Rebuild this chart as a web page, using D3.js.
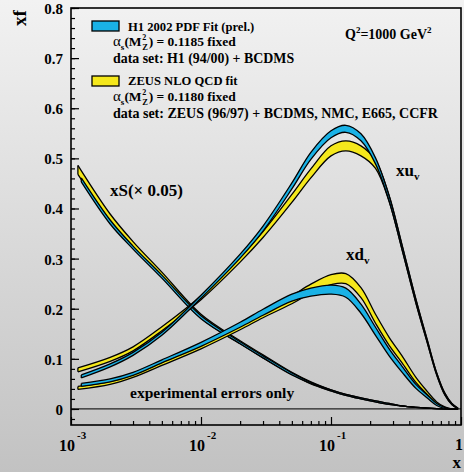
<!DOCTYPE html>
<html>
<head>
<meta charset="utf-8">
<script src="https://cdn.jsdelivr.net/npm/d3@7"></script>
<style>
  html, body { margin: 0; padding: 0; }
  body { width: 464px; height: 472px; overflow: hidden; }
  text { font-family: "Liberation Serif", "Times New Roman", serif; font-weight: bold; fill: #000; }
</style>
</head>
<body>
<script>
// x grids of the two fits (the fits start at slightly different low-x values)
const xH1   = [0.0012, 0.002, 0.003, 0.005, 0.01, 0.02, 0.03, 0.05, 0.07, 0.1, 0.13, 0.17, 0.22, 0.28, 0.35, 0.45, 0.55, 0.65, 0.75, 0.85, 0.95];
const xZEUS = [0.00113, 0.002, 0.003, 0.005, 0.01, 0.02, 0.03, 0.05, 0.07, 0.1, 0.13, 0.17, 0.22, 0.28, 0.35, 0.45, 0.55, 0.65, 0.75, 0.85, 0.95];

// x u_v
const xuvH1      = [0.065, 0.087, 0.110, 0.150, 0.224, 0.305, 0.360, 0.445, 0.505, 0.548, 0.559, 0.542, 0.495, 0.420, 0.325, 0.215, 0.135, 0.070, 0.030, 0.010, 0.001];
const xuvH1Err   = [0.003, 0.003, 0.003, 0.003, 0.003, 0.004, 0.005, 0.006, 0.007, 0.007, 0.007, 0.007, 0.006, 0.005, 0.004, 0.003, 0.002, 0.002, 0.001, 0.001, 0.0005];
const xuvZEUS    = [0.078, 0.099, 0.120, 0.160, 0.222, 0.298, 0.348, 0.420, 0.470, 0.515, 0.525, 0.515, 0.488, 0.420, 0.325, 0.215, 0.135, 0.070, 0.030, 0.010, 0.001];
const xuvZEUSErr = [0.004, 0.004, 0.004, 0.004, 0.004, 0.005, 0.006, 0.008, 0.009, 0.010, 0.010, 0.010, 0.008, 0.006, 0.005, 0.004, 0.003, 0.002, 0.002, 0.001, 0.0005];

// x d_v
const xdvH1      = [0.048, 0.057, 0.070, 0.095, 0.129, 0.168, 0.193, 0.222, 0.233, 0.238, 0.232, 0.200, 0.155, 0.113, 0.080, 0.045, 0.025, 0.009, 0.002, 0.000, 0.000];
const xdvH1Err   = [0.003, 0.003, 0.003, 0.003, 0.004, 0.005, 0.006, 0.007, 0.008, 0.009, 0.009, 0.009, 0.008, 0.007, 0.006, 0.004, 0.003, 0.002, 0.001, 0.000, 0.000];
const xdvZEUS    = [0.042, 0.052, 0.066, 0.090, 0.124, 0.163, 0.188, 0.218, 0.240, 0.258, 0.260, 0.232, 0.180, 0.135, 0.100, 0.058, 0.032, 0.012, 0.003, 0.000, 0.000];
const xdvZEUSErr = [0.003, 0.003, 0.003, 0.003, 0.004, 0.005, 0.006, 0.008, 0.009, 0.010, 0.010, 0.010, 0.009, 0.008, 0.007, 0.005, 0.003, 0.002, 0.001, 0.000, 0.000];

// x S, scaled by 0.05
const xSH1       = [0.457, 0.373, 0.322, 0.264, 0.183, 0.132, 0.104, 0.070, 0.052, 0.037, 0.028, 0.021, 0.015, 0.010, 0.006, 0.003, 0.0015, 0.0007, 0.0003, 0.0001, 0.000];
const xSH1Err    = [0.004, 0.004, 0.003, 0.003, 0.003, 0.002, 0.002, 0.002, 0.001, 0.001, 0.001, 0.001, 0.001, 0.001, 0.000, 0.000, 0.000, 0.000, 0.000, 0.000, 0.000];
const xSZEUS     = [0.477, 0.382, 0.328, 0.268, 0.185, 0.133, 0.105, 0.071, 0.052, 0.037, 0.028, 0.021, 0.015, 0.010, 0.006, 0.003, 0.0015, 0.0007, 0.0003, 0.0001, 0.000];
const xSZEUSErr  = [0.009, 0.007, 0.006, 0.005, 0.004, 0.003, 0.003, 0.002, 0.002, 0.001, 0.001, 0.001, 0.001, 0.001, 0.000, 0.000, 0.000, 0.000, 0.000, 0.000, 0.000];

// axis ticks and labels
const yMajorTicks = [0, 0.1, 0.2, 0.3, 0.4, 0.5, 0.6, 0.7, 0.8];
const yTickLabels = ["0", "0.1", "0.2", "0.3", "0.4", "0.5", "0.6", "0.7", "0.8"];
const xDecades = [0.001, 0.01, 0.1, 1];
const xDecadeExponents = ["-3", "-2", "-1", ""];

const colH1 = "#1ab2e6";
const colZEUS = "#f5e81c";

const W = 464, H = 472;
const margin = { left: 71, right: 3, top: 8, bottom: 47 };
const plotW = W - margin.left - margin.right;
const plotH = H - margin.top - margin.bottom;

const svg = d3.select("body").append("svg").attr("width", W).attr("height", H);

// background shading
const defs = svg.append("defs");
const grad = defs.append("linearGradient").attr("id", "bg").attr("x1", 0).attr("y1", 0).attr("x2", 0).attr("y2", 1);
grad.append("stop").attr("offset", "0%").attr("stop-color", "#f2f2f2");
grad.append("stop").attr("offset", "100%").attr("stop-color", "#c2c2c2");
svg.append("rect").attr("width", W).attr("height", H).attr("fill", "url(#bg)");

const x = d3.scaleLog().domain([0.001, 1]).range([margin.left, margin.left + plotW]);
const y = d3.scaleLinear().domain([-0.032, 0.8]).range([margin.top + plotH, margin.top]);

const clip = defs.append("clipPath").attr("id", "plotclip");
clip.append("rect").attr("x", margin.left).attr("y", margin.top).attr("width", plotW).attr("height", plotH);

// zero line
svg.append("line")
  .attr("x1", x(0.001)).attr("x2", x(1)).attr("y1", y(0)).attr("y2", y(0))
  .attr("stroke", "#222").attr("stroke-width", 1.2);

// bands
const plot = svg.append("g").attr("clip-path", "url(#plotclip)");
const curve = d3.curveCatmullRom.alpha(0.5);

function band(xs, vals, errs, color) {
  const rows = xs.map((xv, i) => ({ x: xv, lo: Math.max(0, vals[i] - errs[i]), hi: vals[i] + errs[i] }));
  const area = d3.area().x(d => x(d.x)).y0(d => y(d.lo)).y1(d => y(d.hi)).curve(curve);
  const lineLo = d3.line().x(d => x(d.x)).y(d => y(d.lo)).curve(curve);
  const lineHi = d3.line().x(d => x(d.x)).y(d => y(d.hi)).curve(curve);
  const g = plot.append("g");
  g.append("path").attr("d", area(rows)).attr("fill", color).attr("stroke", "none");
  g.append("path").attr("d", lineLo(rows)).attr("fill", "none").attr("stroke", "#000").attr("stroke-width", 1.3);
  g.append("path").attr("d", lineHi(rows)).attr("fill", "none").attr("stroke", "#000").attr("stroke-width", 1.3);
  // closing edge at the low-x end
  g.append("line")
    .attr("x1", x(rows[0].x)).attr("x2", x(rows[0].x))
    .attr("y1", y(rows[0].lo)).attr("y2", y(rows[0].hi))
    .attr("stroke", "#000").attr("stroke-width", 1.3);
}

band(xZEUS, xSZEUS, xSZEUSErr, colZEUS);
band(xH1, xSH1, xSH1Err, colH1);
band(xZEUS, xdvZEUS, xdvZEUSErr, colZEUS);
band(xH1, xdvH1, xdvH1Err, colH1);
band(xZEUS, xuvZEUS, xuvZEUSErr, colZEUS);
band(xH1, xuvH1, xuvH1Err, colH1);

// y axis: major and minor ticks pointing inwards
const yMinorTicks = d3.range(-0.02, 0.8001, 0.02).map(v => +v.toFixed(2));
svg.append("g").attr("transform", `translate(${margin.left},0)`)
  .call(d3.axisLeft(y).tickValues(yMinorTicks).tickSizeInner(-4).tickSizeOuter(0).tickFormat(""))
  .call(g => g.select(".domain").remove())
  .selectAll("line").attr("stroke", "#000").attr("stroke-width", 1.2);

const yAx = svg.append("g").attr("transform", `translate(${margin.left},0)`)
  .call(d3.axisLeft(y).tickValues(yMajorTicks).tickSizeInner(-8).tickSizeOuter(0).tickPadding(8)
    .tickFormat((d, i) => yTickLabels[i]));
yAx.select(".domain").remove();
yAx.selectAll("line").attr("stroke", "#000").attr("stroke-width", 1.2);
yAx.selectAll("text").attr("font-family", null).attr("font-size", null)
  .style("font-size", "15px").attr("dy", "0.36em");

// x axis: decades and minor ticks pointing upwards
const xMinorTicks = [];
for (let e = -3; e < 0; e++) for (let m = 2; m <= 9; m++) xMinorTicks.push(m * Math.pow(10, e));
svg.append("g").attr("transform", `translate(0,${margin.top + plotH})`)
  .call(d3.axisBottom(x).tickValues(xMinorTicks).tickSizeInner(-4).tickSizeOuter(0).tickFormat(""))
  .call(g => g.select(".domain").remove())
  .selectAll("line").attr("stroke", "#000").attr("stroke-width", 1.2);
svg.append("g").attr("transform", `translate(0,${margin.top + plotH})`)
  .call(d3.axisBottom(x).tickValues(xDecades).tickSizeInner(-8).tickSizeOuter(0).tickFormat(""))
  .call(g => g.select(".domain").remove())
  .selectAll("line").attr("stroke", "#000").attr("stroke-width", 1.2);

// decade labels 10^n
xDecades.forEach((d, i) => {
  const exp = xDecadeExponents[i];
  if (exp === "") {
    svg.append("text").attr("x", x(d) - 2).attr("y", 450).attr("text-anchor", "middle")
      .style("font-size", "16px").text("1");
  } else {
    const t = svg.append("text").attr("x", x(d) - 12).attr("y", 451).style("font-size", "16px");
    t.append("tspan").text("10");
    t.append("tspan").attr("dx", 2).attr("dy", -12).style("font-size", "11px").text(exp);
  }
});

// frame
svg.append("rect").attr("x", margin.left).attr("y", margin.top).attr("width", plotW).attr("height", plotH)
  .attr("fill", "none").attr("stroke", "#000").attr("stroke-width", 1.6);

// axis titles
svg.append("text").attr("transform", `translate(26,26) rotate(-90)`)
  .style("font-size", "19px").text("xf");
svg.append("text").attr("x", 461).attr("y", 468).attr("text-anchor", "end")
  .style("font-size", "17px").text("x");

// legend
function legendBox(yTop, color) {
  svg.append("rect").attr("x", 92).attr("y", yTop).attr("width", 27).attr("height", 10)
    .attr("fill", color).attr("stroke", "#000").attr("stroke-width", 1.3);
}
function plainLine(px, py, str, size) {
  svg.append("text").attr("x", px).attr("y", py).style("font-size", size + "px").text(str);
}
function alphaLine(px, py, value) {
  const t = svg.append("text").attr("x", px).attr("y", py).style("font-size", "13.5px");
  t.append("tspan").style("font-weight", "normal").style("font-size", "15px").text("α");
  t.append("tspan").attr("dy", 4).style("font-size", "9px").text("s");
  t.append("tspan").attr("dy", -4).text("(M");
  const w = t.node().getComputedTextLength();
  // superscript 2 stacked over subscript Z
  t.append("tspan").attr("x", px + w + 0.5).attr("dy", -6).style("font-size", "8px").text("2");
  t.append("tspan").attr("x", px + w + 0.5).attr("dy", 9.5).style("font-size", "8.5px").text("Z");
  t.append("tspan").attr("x", px + w + 7).attr("dy", -3.5).text(") = " + value + " fixed");
}

legendBox(21, colH1);
plainLine(128, 31, "H1 2002 PDF Fit (prel.)", 12.6);
alphaLine(113, 46, "0.1185");
plainLine(113, 63, "data set: H1 (94/00) + BCDMS", 13.9);

legendBox(76, colZEUS);
plainLine(128, 85, "ZEUS NLO QCD fit", 12.6);
alphaLine(113, 101, "0.1180");
plainLine(113, 118, "data set: ZEUS (96/97) + BCDMS, NMC, E665, CCFR", 14);

// Q^2 label
const q = svg.append("text").attr("x", 345).attr("y", 39).style("font-size", "14px");
q.append("tspan").text("Q");
q.append("tspan").attr("dy", -6).style("font-size", "9px").text("2");
q.append("tspan").attr("dy", 6).text("=1000 GeV");
q.append("tspan").attr("dy", -6).style("font-size", "9px").text("2");

// curve labels
svg.append("text").attr("x", 110).attr("y", 196).style("font-size", "17px").text("xS(× 0.05)");

const u = svg.append("text").attr("x", 396).attr("y", 176).style("font-size", "17px");
u.append("tspan").text("xu");
u.append("tspan").attr("dy", 4).style("font-size", "11px").text("v");

const dl = svg.append("text").attr("x", 346).attr("y", 260).style("font-size", "17px");
dl.append("tspan").text("xd");
dl.append("tspan").attr("dy", 4).style("font-size", "11px").text("v");

svg.append("text").attr("x", 130).attr("y", 398).style("font-size", "15.5px").text("experimental errors only");
</script>
</body>
</html>
